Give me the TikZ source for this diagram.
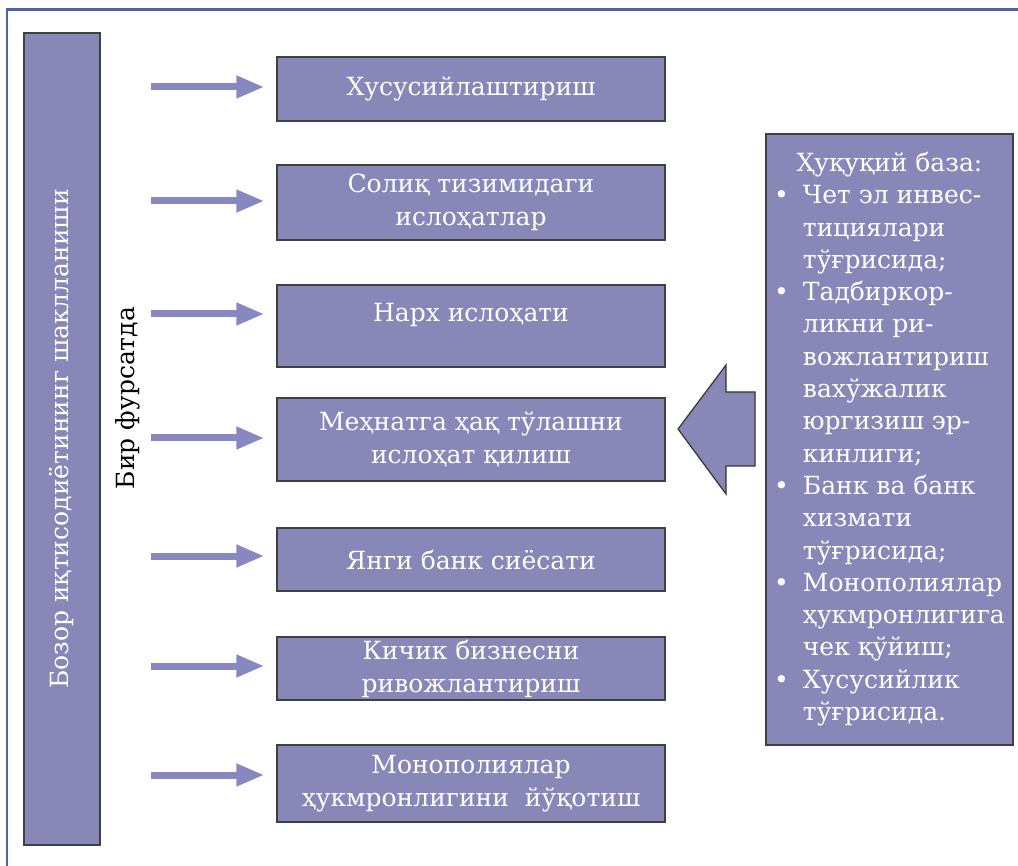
\documentclass[tikz,border=0pt]{standalone}
\usepackage{fontspec}
\setmainfont{DejaVu Serif}
\usepackage{tikz}
\usetikzlibrary{positioning,arrows.meta,calc}
\definecolor{boxfill}{RGB}{135,136,184}
\definecolor{flowcol}{RGB}{136,136,192}
\definecolor{framecol}{RGB}{78,98,170}
\tikzset{
reform/.style={
  draw=black!75,
  line width=1.2pt,
  fill=boxfill,
  text=white,
  minimum width=388pt,
  align=center,
  inner sep=0pt,
  font=\fontsize{25}{33}\selectfont
},
flow/.style={
  draw=flowcol,
  line width=7pt,
  -{Triangle[length=28pt,width=21pt]},
  shorten >=12pt
},
bigarrow/.style={draw=black!80, line width=1.2pt, fill=boxfill},
}

\begin{document}
\begin{tikzpicture}[x=1pt,y=-1pt]
            \useasboundingbox (0,0) rectangle (1018,866);
            \draw[framecol, line width=2.5pt] (7,866) -- (7,9.5) -- (1018,9.5);
            \node[reform, rotate=90, minimum width=812pt, minimum height=76pt] (market) at (62,439) {Бозор иқтисодиётининг шаклланиши};
            \node[rotate=90, font=\fontsize{25}{33}\selectfont] (once) at (128,398) {Бир фурсатда};
            \node[reform, minimum height=64pt] (r1) at (471,89) {Хусусийлаштириш};
            \node[reform, minimum height=75pt] (r2) at (471,202.5) {Солиқ тизимидаги\\ислоҳатлар};
            \node[reform, minimum height=82pt, text depth=27pt] (r3) at (471,326) {Нарх ислоҳати};
            \node[reform, minimum height=83pt] (r4) at (471,439.5) {Меҳнатга ҳақ тўлашни\\ислоҳат қилиш};
            \node[reform, minimum height=63pt] (r5) at (471,559.5) {Янги банк сиёсати};
            \node[reform, minimum height=63pt] (r6) at (471,668.5) {Кичик бизнесни\\ривожлантириш};
            \node[reform, minimum height=77pt] (r7) at (471,783.5) {Монополиялар\\ҳукмронлигини~~йўқотиш};
            \foreach \i/\y in {1/87,2/201,3/314,4/438,5/556,6/666,7/775} {
                \coordinate (s\i) at (151,\y);
                \draw[flow] (s\i) -- (r\i.west |- s\i);
            }
            \node[reform, minimum width=247pt, minimum height=611pt, font=\fontsize{25}{32.3}\selectfont] (law) at (889.5,439.5) {%
                \begin{tabular}{@{}l@{\hspace{14pt}}l@{}}
                \multicolumn{2}{c}{Ҳуқуқий база:}\\
                \textbullet & Чет эл инвес-\\
                            & тициялари\\
                            & тўғрисида;\\
                \textbullet & Тадбиркор-\\
                            & ликни ри-\\
                            & вожлантириш\\
                            & вахўжалик\\
                            & юргизиш эр-\\
                            & кинлиги;\\
                \textbullet & Банк ва банк\\
                            & хизмати\\
                            & тўғрисида;\\
                \textbullet & Монополиялар\\
                            & ҳукмронлигига\\
                            & чек қўйиш;\\
                \textbullet & Хусусийлик\\
                            & тўғрисида.
                \end{tabular}};
            \draw[bigarrow] (678,429) -- (726,365) -- (726,392) -- (755,392) -- (755,466) -- (726,466) -- (726,494) -- cycle;
            \end{tikzpicture}
\end{document}
